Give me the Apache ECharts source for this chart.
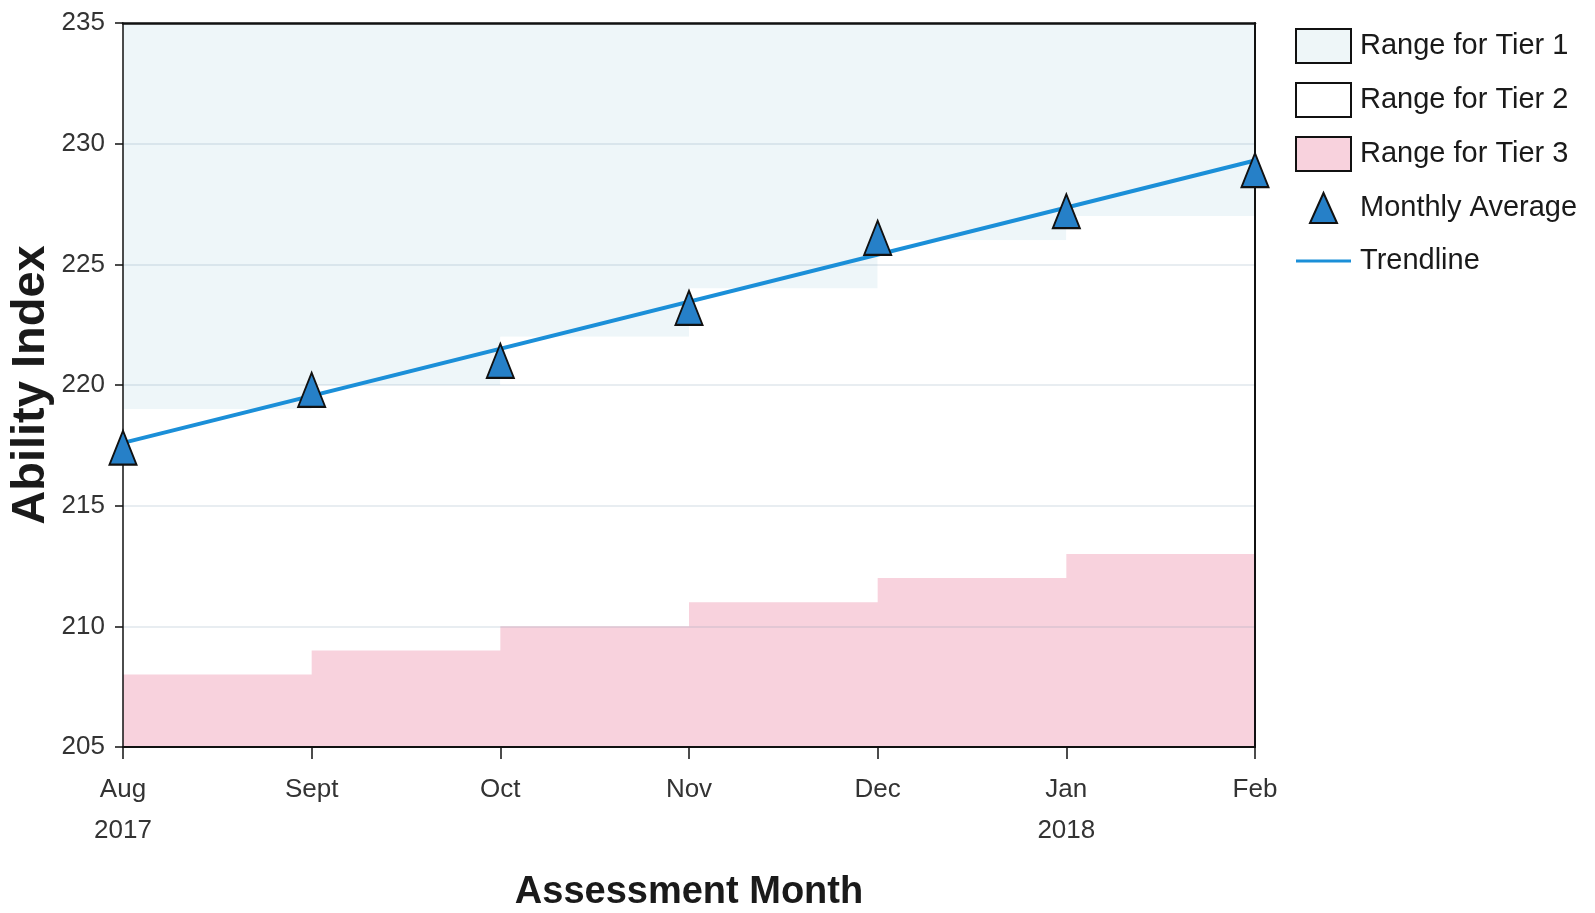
<!DOCTYPE html>
<html>
<head>
<meta charset="utf-8">
<script src="https://cdn.jsdelivr.net/npm/echarts@6/dist/echarts.min.js"></script>
<style>
html,body{margin:0;padding:0;background:#fff;}
#chart{width:1595px;height:913px;}
</style>
</head>
<body>
<div id="chart"></div>
<script>
// ---- data ----
var months = ['Aug\n2017', 'Sept', 'Oct', 'Nov', 'Dec', 'Jan\n2018', 'Feb'];
var monthlyAverage = [217.4, 219.8, 221.0, 223.2, 226.1, 227.2, 228.9];
var trendline = [[0, 217.6], [6, 229.3]];
var tier1Lower = [219, 220, 222, 224, 226, 227, 227];
var tier3Upper = [208, 209, 210, 211, 212, 213, 213];
var yMin = 205, yMax = 235, yStep = 5;

var sans = "'Liberation Sans', Arial, sans-serif";
var triPath = 'path://M0,0 M55,0 M0,34 M55,34 M27.5,2 L41,32 L14,32 Z';
var linePath = 'path://M0,0 M55,0 M0,34 M55,34 M0,15.5 L55,15.5 L55,18.5 L0,18.5 Z';

var chart = echarts.init(document.getElementById('chart'));
chart.setOption({
  animation: false,
  backgroundColor: '#ffffff',
  grid: { left: 123, right: 340, top: 23, bottom: 166, show: false, outerBoundsMode: 'none', containLabel: false },
  legend: {
    orient: 'vertical',
    left: 1290,
    top: 23,
    itemWidth: 55,
    itemHeight: 34,
    itemGap: 18,
    selectedMode: false,
    textStyle: { fontFamily: sans, fontSize: 29, color: '#1a1a1a', lineHeight: 34, padding: [0, 0, 0, 4] },
    data: [
      { name: 'Range for Tier 1', icon: 'rect', itemStyle: { color: '#eef6f8', borderColor: '#111', borderWidth: 2 } },
      { name: 'Range for Tier 2', icon: 'rect', itemStyle: { color: '#ffffff', borderColor: '#111', borderWidth: 2 } },
      { name: 'Range for Tier 3', icon: 'rect', itemStyle: { color: '#f8d2dd', borderColor: '#111', borderWidth: 2 } },
      { name: 'Monthly Average', icon: triPath, itemStyle: { color: '#2680c8', borderColor: '#111', borderWidth: 2 } },
      { name: 'Trendline', icon: linePath, itemStyle: { color: '#1b8fd8', borderWidth: 0 } }
    ]
  },
  xAxis: [{
    type: 'category',
    data: months,
    boundaryGap: false,
    position: 'bottom',
    z: 4,
    axisLine: { show: true, lineStyle: { color: '#111', width: 2 } },
    axisTick: { show: true, length: 12, alignWithLabel: true, lineStyle: { color: '#111', width: 1.5 } },
    axisLabel: { fontFamily: sans, fontSize: 26, color: '#333', lineHeight: 41, margin: 22, interval: 0 },
    splitLine: { show: false },
    name: 'Assessment Month',
    nameLocation: 'middle',
    nameGap: 127,
    nameMoveOverlap: false,
    nameTextStyle: { fontFamily: sans, fontSize: 38, fontWeight: 'bold', color: '#1a1a1a' }
  }, {
    type: 'category',
    data: months,
    boundaryGap: false,
    position: 'top',
    z: 4,
    axisLine: { show: true, lineStyle: { color: '#111', width: 2.5 } },
    axisTick: { show: false },
    axisLabel: { show: false },
    splitLine: { show: false }
  }],
  yAxis: [{
    type: 'value',
    min: yMin,
    max: yMax,
    interval: yStep,
    position: 'left',
    z: 3,
    axisLine: { show: true, lineStyle: { color: '#111', width: 1.5 } },
    axisTick: { show: true, length: 8, lineStyle: { color: '#111', width: 1.5 } },
    axisLabel: { fontFamily: sans, fontSize: 26, color: '#333', margin: 18 },
    splitLine: { show: true, lineStyle: { color: 'rgba(120,150,175,0.22)', width: 1.5 } },
    name: 'Ability Index',
    nameLocation: 'middle',
    nameGap: 68,
    nameMoveOverlap: false,
    nameTextStyle: { fontFamily: sans, fontSize: 47, fontWeight: 'bold', color: '#1a1a1a' }
  }, {
    type: 'value',
    min: yMin,
    max: yMax,
    interval: yStep,
    position: 'right',
    z: 4,
    axisLine: { show: true, lineStyle: { color: '#111', width: 2 } },
    axisTick: { show: false },
    axisLabel: { show: false },
    splitLine: { show: false }
  }],
  series: [
    {
      name: 'Range for Tier 1',
      type: 'line',
      step: 'end',
      data: tier1Lower,
      symbol: 'none',
      lineStyle: { width: 0 },
      areaStyle: { origin: 'end', color: '#eef6f9', opacity: 1 },
      z: 1,
      silent: true
    },
    {
      name: 'Range for Tier 2',
      type: 'line',
      step: 'end',
      data: tier1Lower,
      symbol: 'none',
      lineStyle: { width: 0 },
      areaStyle: { origin: 'start', color: '#ffffff', opacity: 1 },
      z: 1,
      silent: true
    },
    {
      name: 'Range for Tier 3',
      type: 'line',
      step: 'end',
      data: tier3Upper,
      symbol: 'none',
      lineStyle: { width: 0 },
      areaStyle: { origin: 'start', color: '#f8d2dd', opacity: 1 },
      z: 2,
      silent: true
    },
    {
      name: 'Trendline',
      type: 'line',
      data: trendline,
      symbol: 'none',
      lineStyle: { color: '#1b8fd8', width: 4 },
      itemStyle: { color: '#1b8fd8' },
      z: 5
    },
    {
      name: 'Monthly Average',
      type: 'scatter',
      data: monthlyAverage,
      symbol: 'triangle',
      symbolSize: [27, 34],
      itemStyle: { color: '#2680c8', borderColor: '#111', borderWidth: 2, opacity: 1 },
      z: 6
    }
  ]
});
</script>
</body>
</html>
